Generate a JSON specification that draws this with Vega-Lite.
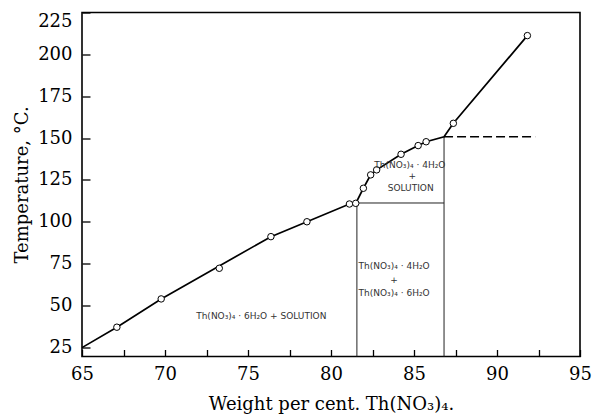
{
  "$schema": "https://vega.github.io/schema/vega-lite/v6.json",
  "width": 498,
  "height": 344,
  "autosize": {"type": "none"},
  "padding": {"left": 82, "top": 12.5, "right": 12, "bottom": 63.5},
  "background": "white",
  "config": {
    "view": {"stroke": "black", "strokeWidth": 1.6},
    "axis": {
      "grid": false,
      "domain": false,
      "labelFont": "DejaVu Serif",
      "labelFontSize": 18,
      "labelColor": "black",
      "titleFont": "DejaVu Serif",
      "titleFontSize": 18,
      "titleFontWeight": "normal",
      "titleColor": "black"
    }
  },
  "datasets": {
    "points": [
      {"w": 65.0, "t": 24.8, "kind": "vertex"},
      {"w": 67.1, "t": 37.0, "kind": "obs"},
      {"w": 69.77, "t": 53.9, "kind": "obs"},
      {"w": 73.27, "t": 72.2, "kind": "obs_off"},
      {"w": 76.38, "t": 91.1, "kind": "obs"},
      {"w": 78.55, "t": 100.0, "kind": "obs"},
      {"w": 81.11, "t": 110.6, "kind": "obs"},
      {"w": 81.49, "t": 111.0, "kind": "obs"},
      {"w": 81.95, "t": 120.0, "kind": "obs"},
      {"w": 82.39, "t": 128.0, "kind": "obs"},
      {"w": 82.75, "t": 131.0, "kind": "obs"},
      {"w": 84.22, "t": 140.3, "kind": "obs"},
      {"w": 85.25, "t": 145.5, "kind": "obs"},
      {"w": 85.73, "t": 147.8, "kind": "obs"},
      {"w": 86.81, "t": 150.8, "kind": "vertex"},
      {"w": 87.37, "t": 158.8, "kind": "obs"},
      {"w": 91.83, "t": 211.2, "kind": "obs"}
    ],
    "boundaries": [
      {"b": "hexahydrate limit", "w1": 81.56, "t1": 19.5, "w2": 81.56, "t2": 111.2},
      {"b": "tetrahydrate limit", "w1": 86.81, "t1": 19.5, "w2": 86.81, "t2": 150.8},
      {"b": "transition", "w1": 81.56, "t1": 111.2, "w2": 86.81, "t2": 111.2},
      {"b": "extension", "w1": 86.81, "t1": 150.8, "w2": 92.3, "t2": 150.8}
    ],
    "labels": [
      {"w": 75.8, "t": 43.7, "label": "Th(NO₃)₄ · 6H₂O + SOLUTION"},
      {"w": 84.75, "t": 133.8, "label": "Th(NO₃)₄ · 4H₂O"},
      {"w": 84.9, "t": 127.3, "label": "+"},
      {"w": 84.8, "t": 120.0, "label": "SOLUTION"},
      {"w": 83.8, "t": 73.6, "label": "Th(NO₃)₄ · 4H₂O"},
      {"w": 83.8, "t": 65.4, "label": "+"},
      {"w": 83.8, "t": 57.3, "label": "Th(NO₃)₄ · 6H₂O"}
    ]
  },
  "layer": [
    {
      "data": {"name": "boundaries"},
      "transform": [{"filter": "datum.b !== 'extension'"}],
      "mark": {"type": "rule", "color": "#222", "strokeWidth": 1},
      "encoding": {
        "x": {"field": "w1", "type": "quantitative",
          "scale": {"domain": [65, 95], "nice": false, "zero": false},
          "axis": {
            "title": "Weight per cent. Th(NO₃)₄.",
            "values": [65, 67.5, 70, 72.5, 75, 77.5, 80, 82.5, 85, 87.5, 90, 92.5, 95],
            "labelExpr": "datum.value % 5 === 0 ? datum.label : ''",
            "ticks": true,
            "tickColor": "black",
            "tickWidth": 1.3,
            "tickSize": -7,
            "labelPadding": 16,
            "titlePadding": 12,
            "labelFlush": false
          }},
        "y": {"field": "t1", "type": "quantitative",
          "scale": {"domain": [19.5, 225], "nice": false, "zero": false},
          "axis": {
            "title": "Temperature, °C.",
            "values": [25, 50, 75, 100, 125, 150, 175, 200, 225],
            "ticks": true,
            "tickColor": "black",
            "tickWidth": 1.3,
            "tickSize": -8,
            "labelPadding": 18,
            "titlePadding": 6,
            "labelFlush": true
          }},
        "x2": {"field": "w2"},
        "y2": {"field": "t2"}
      }
    },
    {
      "data": {"name": "boundaries"},
      "transform": [{"filter": "datum.b === 'extension'"}],
      "mark": {"type": "rule", "color": "black", "strokeWidth": 1.5, "strokeDash": [9, 4]},
      "encoding": {
        "x": {"field": "w1", "type": "quantitative"},
        "y": {"field": "t1", "type": "quantitative"},
        "x2": {"field": "w2"},
        "y2": {"field": "t2"}
      }
    },
    {
      "data": {"name": "points"},
      "transform": [{"filter": "datum.kind !== 'obs_off'"}],
      "mark": {"type": "line", "color": "black", "strokeWidth": 1.7},
      "encoding": {
        "x": {"field": "w", "type": "quantitative"},
        "y": {"field": "t", "type": "quantitative"}
      }
    },
    {
      "data": {"name": "points"},
      "transform": [{"filter": "datum.kind !== 'vertex'"}],
      "mark": {"type": "point", "shape": "circle", "filled": true, "fill": "white", "stroke": "black", "strokeWidth": 1, "size": 42, "opacity": 1},
      "encoding": {
        "x": {"field": "w", "type": "quantitative"},
        "y": {"field": "t", "type": "quantitative"}
      }
    },
    {
      "data": {"name": "labels"},
      "mark": {"type": "text", "font": "DejaVu Sans", "fontSize": 9, "color": "#333", "align": "center", "baseline": "middle"},
      "encoding": {
        "x": {"field": "w", "type": "quantitative"},
        "y": {"field": "t", "type": "quantitative"},
        "text": {"field": "label"}
      }
    }
  ]
}
